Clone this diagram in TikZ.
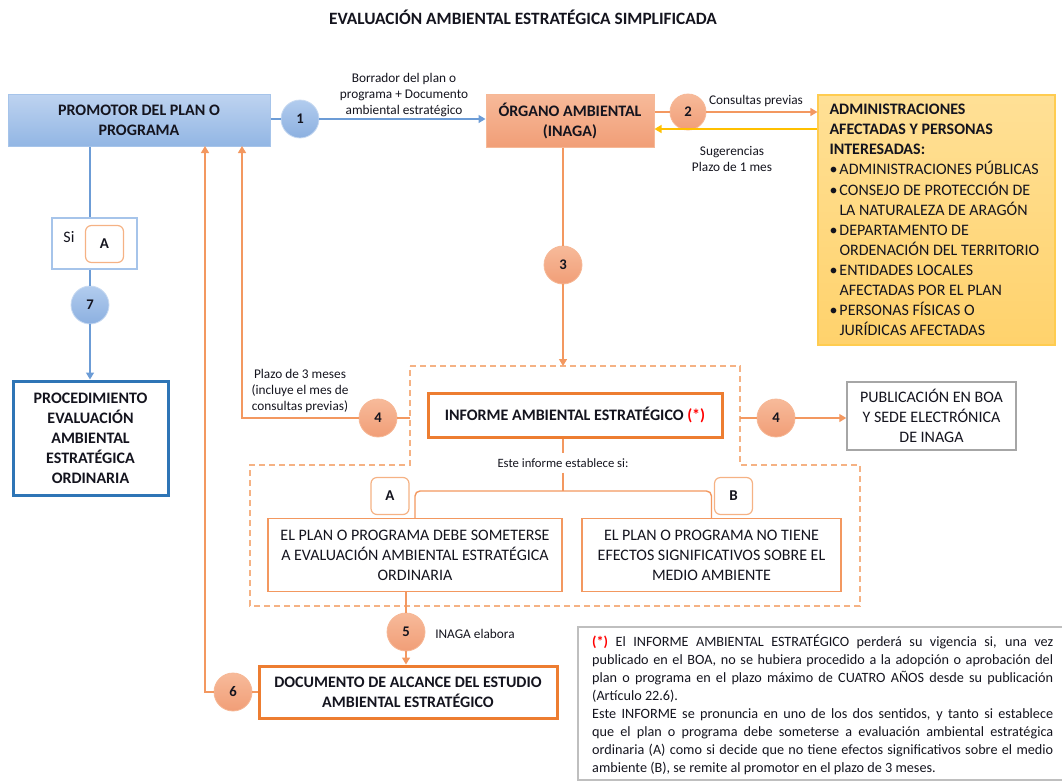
\documentclass[tikz,border=0pt]{standalone}
\usepackage{fontspec}
\setmainfont{Carlito}
\usepackage{tikz}
\usetikzlibrary{arrows.meta}
\usetikzlibrary{positioning}
\usepackage{xcolor}
\definecolor{skytop}{RGB}{190, 211, 240}
\definecolor{skybot}{RGB}{146, 182, 228}
\definecolor{skyedge}{RGB}{166, 196, 234}
\definecolor{bubbletop}{RGB}{178, 204, 238}
\definecolor{bubblebot}{RGB}{140, 176, 224}
\definecolor{bubbleedge}{RGB}{200, 218, 241}
\definecolor{bluewire}{RGB}{108, 156, 214}
\definecolor{cobalt}{RGB}{46, 117, 182}
\definecolor{salmontop}{RGB}{247, 186, 154}
\definecolor{salmonbot}{RGB}{241, 158, 119}
\definecolor{salmonedge}{RGB}{246, 184, 150}
\definecolor{tangerine}{RGB}{237, 125, 49}
\definecolor{apricot}{RGB}{243, 152, 96}
\definecolor{peach}{RGB}{245, 178, 132}
\definecolor{suntop}{RGB}{255, 224, 150}
\definecolor{sunbot}{RGB}{255, 210, 108}
\definecolor{sunedge}{RGB}{255, 204, 80}
\definecolor{amber}{RGB}{255, 192, 0}
\definecolor{silver}{RGB}{166, 166, 166}
\definecolor{ash}{RGB}{191, 191, 191}
\definecolor{scarlet}{RGB}{255, 0, 0}
\definecolor{ink}{RGB}{20, 20, 30}

\newcommand{\admbul}{\makebox[10pt][l]{\textbullet}}
\newcommand{\admind}{\hspace*{10pt}}

\tikzset{
    every node/.style = {inner sep=0pt, text=ink},
    wire/.style       = {draw=apricot, line width=1.4pt},
    bwire/.style      = {draw=bluewire, line width=1.4pt},
    arrowed/.style    = {-{Triangle[length=7pt,width=8pt]}},
    hdr/.style        = {align=center, font=\bfseries\fontsize{16}{20}\selectfont},
    boxtext/.style    = {align=center, font=\fontsize{16}{20}\selectfont},
    smalltext/.style  = {align=center, font=\fontsize{13.3}{16}\selectfont},
    ocirc/.style      = {circle, minimum size=38pt, draw=salmonedge, line width=0.8pt,
                         top color=salmontop, bottom color=salmonbot,
                         font=\bfseries\fontsize{14.7}{15}\selectfont},
    bcirc/.style      = {circle, minimum size=38pt, draw=bubbleedge, line width=0.8pt,
                         top color=bubbletop, bottom color=bubblebot,
                         font=\bfseries\fontsize{14.7}{15}\selectfont},
    tagbox/.style     = {draw=peach, rounded corners=6pt, line width=1.2pt,
                         minimum width=38pt, minimum height=37pt,
                         font=\bfseries\fontsize{15}{15}\selectfont},
    dashframe/.style  = {draw=peach, line width=1.5pt, dash pattern=on 6pt off 4pt}
}

\begin{document}
\begin{tikzpicture}[x=1pt,y=-1pt]
    \useasboundingbox (0,0) rectangle (1062,782);

    \node[hdr, font=\bfseries\fontsize{17.3}{20}\selectfont] (titulo) at (523,17) {EVALUACIÓN AMBIENTAL ESTRATÉGICA SIMPLIFICADA};

    \node[hdr, draw=skyedge, line width=1pt, top color=skytop, bottom color=skybot,
          minimum width=262pt, minimum height=52pt]                     (promotor) at (139,120)   {PROMOTOR DEL PLAN O\\PROGRAMA};
    \node[hdr, draw=salmonedge, line width=1pt, top color=salmontop, bottom color=salmonbot,
          minimum width=168pt, minimum height=53pt]                     (organo)   at (570,120.5) {ÓRGANO AMBIENTAL\\(INAGA)};
    \node[align=flush left, font=\fontsize{16}{20.1}\selectfont, draw=sunedge, line width=1.2pt,
          top color=suntop, bottom color=sunbot, text width=214pt,
          minimum width=237pt, minimum height=250pt]                    (admin)    at (936.5,220) {
          \textbf{ADMINISTRACIONES}\\
          \textbf{AFECTADAS Y PERSONAS}\\
          \textbf{INTERESADAS:}\\
          \admbul ADMINISTRACIONES PÚBLICAS\\
          \admbul CONSEJO DE PROTECCIÓN DE\\
          \admind LA NATURALEZA DE ARAGÓN\\
          \admbul DEPARTAMENTO DE\\
          \admind ORDENACIÓN DEL TERRITORIO\\
          \admbul ENTIDADES LOCALES\\
          \admind AFECTADAS POR EL PLAN\\
          \admbul PERSONAS FÍSICAS O\\
          \admind JURÍDICAS AFECTADAS};

    \draw[dashframe] (410,366) -- (740,366) -- (740,465) -- (860,465) -- (860,606)
                     -- (250,606) -- (250,465) -- (410,465) -- cycle;

    \node[hdr, draw=tangerine, line width=3pt, fill=white,
          minimum width=294pt, minimum height=44pt]                     (informe)  at (575,415)   {INFORME AMBIENTAL ESTRATÉGICO {\color{scarlet}(*)}};
    \node[boxtext, draw=silver, line width=1.5pt, fill=white,
          minimum width=169pt, minimum height=68pt]                     (boa)      at (931.5,416) {PUBLICACIÓN EN BOA\\Y SEDE ELECTRÓNICA\\DE INAGA};
    \node[smalltext, font=\fontsize{12.7}{16}\selectfont, inner sep=5pt] (establece) at (563,463) {Este informe establece si:};
    \node[tagbox]                                                       (tagA)     at (390,496)   {A};
    \node[tagbox]                                                       (tagB)     at (733.5,496) {B};
    \node[boxtext, draw=apricot, line width=1.5pt,
          minimum width=294pt, minimum height=73pt]                     (planA)    at (415,555)   {EL PLAN O PROGRAMA DEBE SOMETERSE\\A EVALUACIÓN AMBIENTAL ESTRATÉGICA\\ORDINARIA};
    \node[boxtext, draw=apricot, line width=1.5pt,
          minimum width=259pt, minimum height=73pt]                     (planB)    at (711.5,555) {EL PLAN O PROGRAMA NO TIENE\\EFECTOS SIGNIFICATIVOS SOBRE EL\\MEDIO AMBIENTE};
    \node[hdr, draw=tangerine, line width=3pt,
          minimum width=298pt, minimum height=52pt]                     (alcance)  at (408,692)   {DOCUMENTO DE ALCANCE DEL ESTUDIO\\AMBIENTAL ESTRATÉGICO};

    \node[draw=skyedge, line width=1.3pt, minimum width=85pt, minimum height=51pt] (siA) at (94.5,243.5) {};
    \node[boxtext]                                                      (si)       at (69,237)    {Si};
    \node[tagbox]                                                       (tagSi)    at (104.5,244) {A};
    \node[hdr, draw=cobalt, line width=3pt,
          minimum width=155pt, minimum height=114pt]                    (proced)   at (90.5,438)  {PROCEDIMIENTO\\EVALUACIÓN\\AMBIENTAL\\ESTRATÉGICA\\ORDINARIA};

    \node[bcirc]                    (n1)  at (300,119) {1};
    \node[ocirc, minimum size=36pt] (n2)  at (688,112) {2};
    \node[ocirc]                    (n3)  at (563,265) {3};
    \node[ocirc]                    (n4a) at (378,418) {4};
    \node[ocirc]                    (n4b) at (776,418) {4};
    \node[ocirc]                    (n5)  at (406,632) {5};
    \node[ocirc]                    (n6)  at (233,692) {6};
    \node[bcirc]                    (n7)  at (90,305)  {7};

    \node[smalltext] (borrador)    at (404,95)  {Borrador del plan o\\programa + Documento\\ambiental estratégico};
    \node[smalltext] (consultas)   at (756,101) {Consultas previas};
    \node[smalltext] (sugerencias) at (732,159) {Sugerencias\\Plazo de 1 mes};
    \node[smalltext] (plazo3)      at (300,391) {Plazo de 3 meses\\(incluye el mes de\\consultas previas)};
    \node[smalltext] (elabora)     at (475,634) {INAGA elabora};

    \coordinate (ret)    at (730,129);
    \coordinate (dtop)   at (563,366);
    \coordinate (dleft)  at (410,418);
    \coordinate (dright) at (740,418);
    \coordinate (split)  at (563,491);
    \coordinate (up4)    at (242,146);
    \coordinate (up6)    at (205,146);

    \draw[bwire]          (promotor.east |- n1) -- (n1);
    \draw[bwire, arrowed] (n1) -- (n1 -| organo.west);
    \draw[wire]           (organo.east |- n2) -- (n2);
    \draw[wire, arrowed]  (n2) -- (n2 -| admin.west);
    \draw[draw=amber, line width=1.4pt, arrowed] (ret -| admin.west) -- (ret -| organo.east);
    \draw[wire]           (organo.south -| n3) -- (n3);
    \draw[wire, arrowed]  (n3) -- (dtop);
    \draw[wire]           (dleft) -- (n4a);
    \draw[wire, arrowed]  (n4a) -| (up4);
    \draw[wire]           (dright) -- (n4b);
    \draw[wire, arrowed]  (n4b) -- (n4b -| boa.west);
    \draw[wire]           (informe.south -| establece) -- (establece.north);
    \draw[wire]           (establece.south) -- (split);
    \draw[wire, rounded corners=5pt] (planA.north) |- (split) -| (planB.north);
    \draw[wire]           (planA.south -| n5) -- (n5);
    \draw[wire, arrowed]  (n5) -- (n5 |- alcance.north);
    \draw[wire]           (alcance) -- (n6);
    \draw[wire, arrowed]  (n6) -| (up6);
    \draw[bwire]          (promotor.south -| n7) -- (siA.north -| n7);
    \draw[bwire]          (siA.south -| n7) -- (n7);
    \draw[bwire, arrowed] (n7) -- (proced.north -| n7);

    \draw[ash, line width=1.3pt] (578,627) rectangle (1075,780);
    \node[anchor=north west, text width=461pt, align=justify,
          font=\fontsize{14.2}{18}\selectfont] (nota) at (592,634) {%
        {\color{scarlet}\bfseries(*)} El INFORME AMBIENTAL ESTRATÉGICO perderá su vigencia si, una vez\linebreak
        publicado en el BOA, no se hubiera procedido a la adopción o aprobación del\linebreak
        plan o programa en el plazo máximo de CUATRO AÑOS desde su publicación\linebreak
        (Artículo 22.6).\\
        Este INFORME se pronuncia en uno de los dos sentidos, y tanto si establece\linebreak
        que el plan o programa debe someterse a evaluación ambiental estratégica\linebreak
        ordinaria (A) como si decide que no tiene efectos significativos sobre el medio\linebreak
        ambiente (B), se remite al promotor en el plazo de 3 meses.};
\end{tikzpicture}
\end{document}
